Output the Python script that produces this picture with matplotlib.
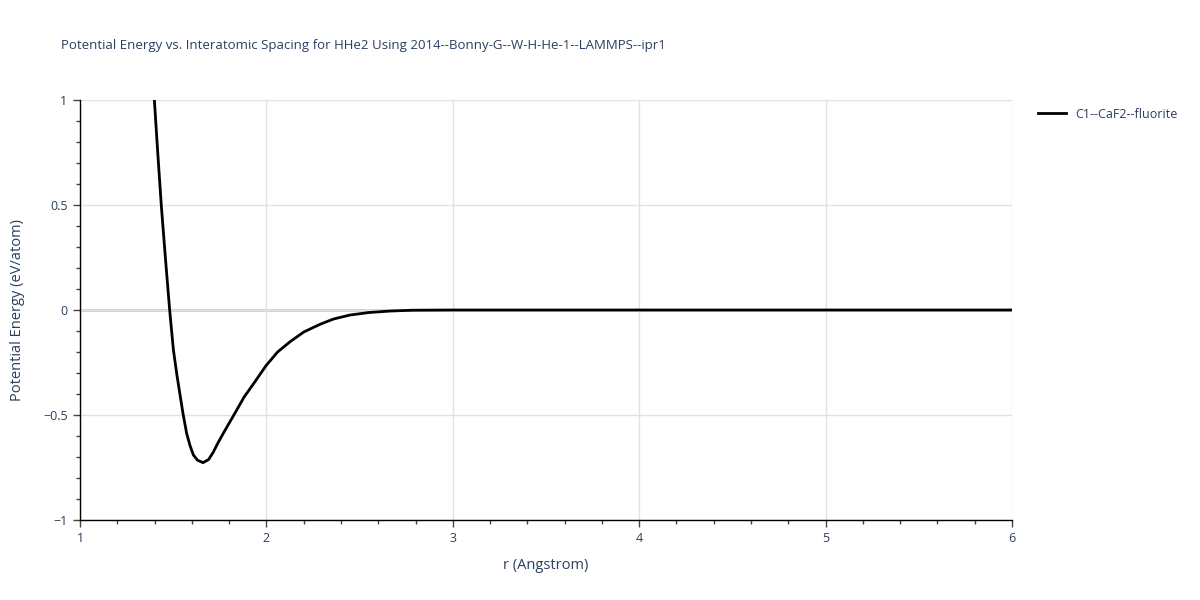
import numpy as np
import matplotlib
matplotlib.use("Agg")
import matplotlib.pyplot as plt
from matplotlib.ticker import MultipleLocator

# ── data ──────────────────────────────────────────────────────────────────────
r_angstrom = [1.399, 1.417, 1.436, 1.458, 1.481, 1.501, 1.52, 1.536, 1.552, 1.572,
              1.59, 1.608, 1.63, 1.66, 1.69, 1.715, 1.74, 1.769, 1.80, 1.832,
              1.88, 1.939, 1.998, 2.06, 2.127, 2.2, 2.288, 2.36, 2.448, 2.55,
              2.663, 2.787, 3.0, 4.0, 5.0, 6.0]
energy_ev = [1.0, 0.75, 0.5, 0.25, 0.0, -0.19, -0.31, -0.40, -0.49, -0.587,
             -0.645, -0.69, -0.715, -0.727, -0.712, -0.677, -0.633, -0.587, -0.539, -0.49,
             -0.415, -0.341, -0.265, -0.2, -0.151, -0.105, -0.068, -0.043, -0.024, -0.012,
             -0.005, -0.001, 0.0, 0.0, 0.0, 0.0]

series_name = "C1--CaF2--fluorite"
title = "Potential Energy vs. Interatomic Spacing for HHe2 Using 2014--Bonny-G--W-H-He-1--LAMMPS--ipr1"
x_label = "r (Angstrom)"
y_label = "Potential Energy (eV/atom)"

text_col = "#2a3f5f"

plt.rcParams["font.family"] = ["Open Sans", "DejaVu Sans"]

fig = plt.figure(figsize=(12, 6), dpi=100)
ax = fig.add_axes([80 / 1200, 80 / 600, 932 / 1200, 420 / 600])

ax.plot(r_angstrom, energy_ev, color="black", lw=2, label=series_name,
        solid_joinstyle="round", zorder=3)

ax.set_xlim(1, 6)
ax.set_ylim(-1, 1)
ax.xaxis.set_major_locator(MultipleLocator(1))
ax.xaxis.set_minor_locator(MultipleLocator(0.2))
ax.yaxis.set_major_locator(MultipleLocator(0.5))
ax.yaxis.set_minor_locator(MultipleLocator(0.1))

ax.grid(True, which="major", color="#e2e2e2", lw=1, zorder=0)
ax.axhline(0, color="#cccccc", lw=2, zorder=1)

for side in ("top", "right"):
    ax.spines[side].set_visible(False)
for side in ("left", "bottom"):
    ax.spines[side].set_color("black")
    ax.spines[side].set_linewidth(1)

ax.tick_params(which="major", direction="out", length=5, width=1, color="#444444",
               labelsize=9, labelcolor=text_col, pad=4)
ax.tick_params(which="minor", direction="out", length=3, width=1, color="#444444")

ax.yaxis.set_major_formatter(matplotlib.ticker.FuncFormatter(
    lambda v, p: ("\u22121" if v == -1 else "\u22120.5" if v == -0.5 else f"{v:g}")))

ax.set_xlabel(x_label, fontsize=10.5, color=text_col, labelpad=9)
ax.set_ylabel(y_label, fontsize=10.5, color=text_col, labelpad=13)

fig.text(61 / 1200, 1 - 45 / 600, title, fontsize=9.5, color=text_col, va="center")

ax.legend(loc="upper left", bbox_to_anchor=(1.02, 1.0), frameon=False,
          fontsize=9, labelcolor=text_col, handlelength=2.2, borderaxespad=0.2)

fig.savefig("out.png", dpi=100)
